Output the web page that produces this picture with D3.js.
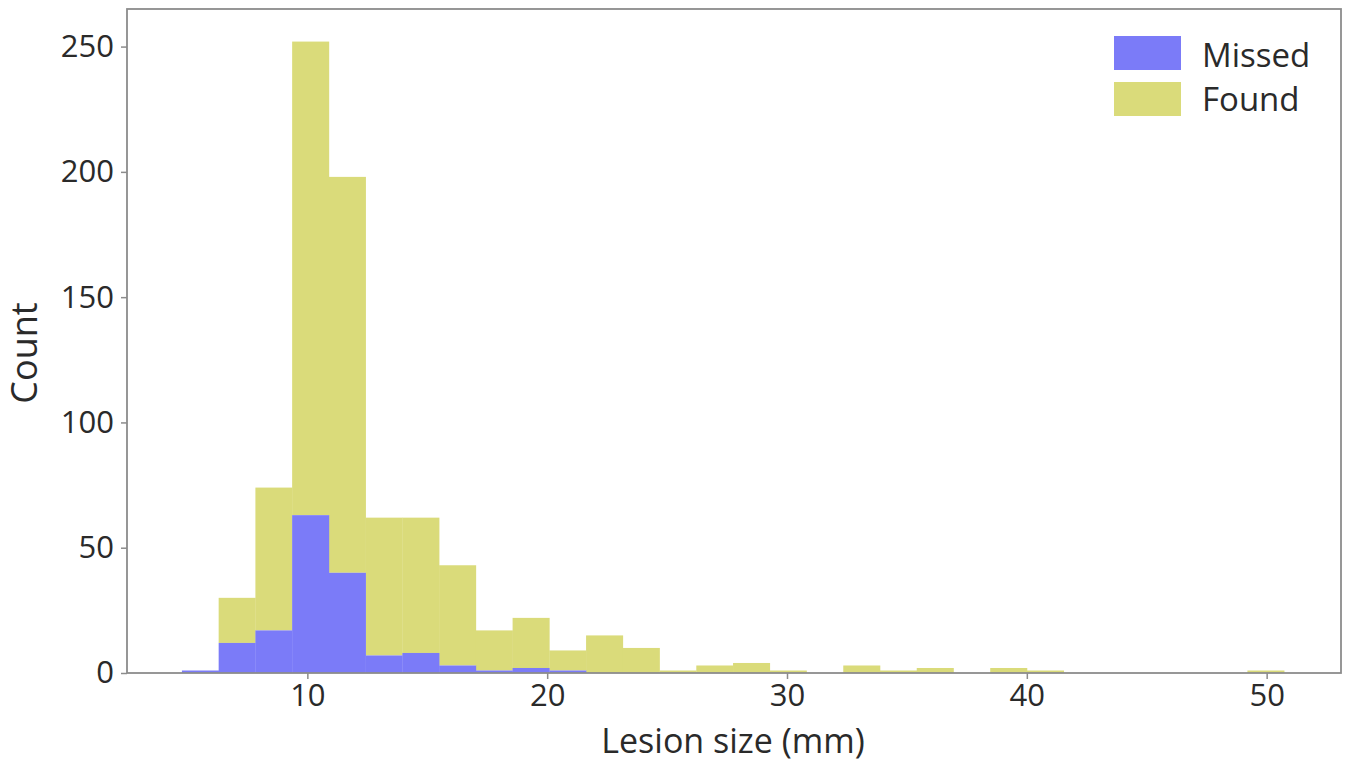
<!DOCTYPE html>
<html>
<head>
<meta charset="utf-8">
<script src="https://cdn.jsdelivr.net/npm/d3@7"></script>
<style>
  html, body { margin: 0; padding: 0; background: #fff; }
  svg { display: block; font-family: "Open Sans", "Noto Sans", sans-serif; }
</style>
</head>
<body>
<svg id="chart" width="1350" height="764"></svg>
<script>
// ---- data ----
const binStart = 4.77;      // left edge of first bin (mm)
const binWidth = 1.532;     // bin width (mm)
const missed = [1, 12, 17, 63, 40, 7, 8, 3, 1, 2, 1, 0, 0, 0, 0, 0, 0, 0, 0, 0, 0, 0, 0, 0, 0, 0, 0, 0, 0, 0];
const found  = [0, 18, 57, 189, 158, 55, 54, 40, 16, 20, 8, 15, 10, 1, 3, 4, 1, 0, 3, 1, 2, 0, 2, 1, 0, 0, 0, 0, 0, 1];
const xTicks = [10, 20, 30, 40, 50];
const yTicks = [0, 50, 100, 150, 200, 250];
const seriesNames = ["Missed", "Found"];
const seriesColors = ["#7b7bf8", "#dadb7a"];

// ---- layout ----
const plot = { left: 127, right: 1341, top: 9, bottom: 673 };
const svg = d3.select("#chart");

const x = d3.scaleLinear().domain([2.48, 53.1]).range([plot.left, plot.right]);
const y = d3.scaleLinear().domain([0, 265]).range([plot.bottom, plot.top]);

const bins = missed.map((m, i) => ({
  x0: binStart + i * binWidth,
  x1: binStart + (i + 1) * binWidth,
  missed: m,
  found: found[i]
}));

// found stacked on top of missed
const gBars = svg.append("g");
gBars.selectAll("rect.found").data(bins.filter(d => d.found > 0)).join("rect")
  .attr("class", "found")
  .attr("x", d => x(d.x0))
  .attr("width", d => x(d.x1) - x(d.x0) + 0.3)
  .attr("y", d => y(d.missed + d.found))
  .attr("height", d => y(d.missed) - y(d.missed + d.found))
  .attr("fill", seriesColors[1]);
gBars.selectAll("rect.missed").data(bins.filter(d => d.missed > 0)).join("rect")
  .attr("class", "missed")
  .attr("x", d => x(d.x0))
  .attr("width", d => x(d.x1) - x(d.x0) + 0.3)
  .attr("y", d => y(d.missed))
  .attr("height", d => y(0) - y(d.missed))
  .attr("fill", seriesColors[0]);

// frame
svg.append("rect")
  .attr("x", plot.left).attr("y", plot.top)
  .attr("width", plot.right - plot.left).attr("height", plot.bottom - plot.top)
  .attr("fill", "none").attr("stroke", "#8c8c8c").attr("stroke-width", 1.8);

// axes
const tickFont = 31;
const xAxis = d3.axisBottom(x).tickValues(xTicks).tickSize(6).tickPadding(5).tickFormat(d3.format("d"));
const gx = svg.append("g").attr("transform", `translate(0,${plot.bottom})`).call(xAxis);
const yAxis = d3.axisLeft(y).tickValues(yTicks).tickSize(6).tickPadding(7).tickFormat(d3.format("d"));
const gy = svg.append("g").attr("transform", `translate(${plot.left},0)`).call(yAxis);
[gx, gy].forEach(g => {
  g.select(".domain").remove();
  g.selectAll(".tick line").attr("stroke", "#8c8c8c").attr("stroke-width", 1.5);
  g.selectAll(".tick text").attr("fill", "#2a2a2a").style("font-size", tickFont + "px")
    .style("font-family", '"Open Sans", "Noto Sans", sans-serif');
});

// axis titles
svg.append("text")
  .attr("x", 733).attr("y", 753)
  .attr("text-anchor", "middle").attr("fill", "#2a2a2a")
  .style("font-size", "34px")
  .text("Lesion size (mm)");
svg.append("text")
  .attr("transform", `translate(37,353) rotate(-90)`)
  .attr("text-anchor", "middle").attr("fill", "#2a2a2a")
  .style("font-size", "36px")
  .text("Count");

// legend
const leg = svg.append("g").attr("transform", "translate(1114,36)");
seriesNames.forEach((name, i) => {
  const g = leg.append("g").attr("transform", `translate(0,${i * 46})`);
  g.append("rect").attr("width", 67).attr("height", 34).attr("fill", seriesColors[i]);
  g.append("text").attr("x", 88).attr("y", 31 - i * 2).attr("fill", "#2a2a2a")
    .style("font-size", "33px").text(name);
});
</script>
</body>
</html>
